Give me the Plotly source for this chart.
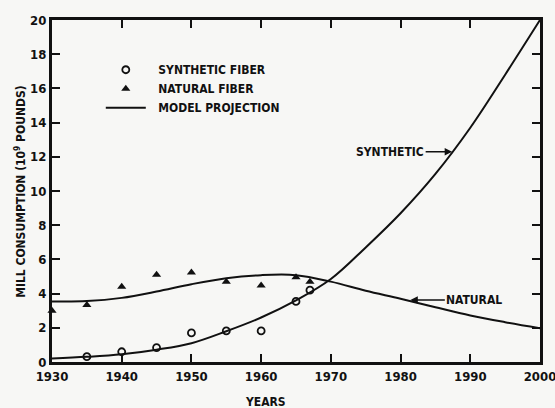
import plotly.graph_objects as go

# Observed data points
syn_years = [1935, 1940, 1945, 1950, 1955, 1960, 1965, 1967]
syn_values = [0.31, 0.6, 0.84, 1.7, 1.82, 1.82, 3.54, 4.2]
nat_years = [1930, 1935, 1940, 1945, 1950, 1955, 1960, 1965, 1967]
nat_values = [3.0, 3.34, 4.4, 5.1, 5.23, 4.7, 4.48, 4.95, 4.7]

# Model projection curves
model_years = [1930, 1935, 1940, 1945, 1950, 1955, 1960, 1965, 1970, 1975, 1980, 1985, 1990, 1995, 2000]
syn_model = [0.2, 0.3, 0.45, 0.72, 1.1, 1.8, 2.6, 3.6, 4.85, 6.7, 8.7, 11.0, 13.7, 16.8, 20.0]
nat_model = [3.54, 3.56, 3.75, 4.12, 4.55, 4.9, 5.08, 5.08, 4.7, 4.17, 3.7, 3.2, 2.72, 2.33, 1.98]

x_ticks = [1930, 1940, 1950, 1960, 1970, 1980, 1990, 2000]
y_ticks = [0, 2, 4, 6, 8, 10, 12, 14, 16, 18, 20]

FONT = "DejaVu Sans Condensed"
INK = "#111111"
NB = "\u00a0"

fig = go.Figure()
fig.add_trace(go.Scatter(x=syn_years, y=syn_values, mode="markers", name=NB * 2 + "SYNTHETIC FIBER",
                         marker=dict(symbol="circle-open", size=7, color=INK, line=dict(width=1.8)),
                         cliponaxis=False))
fig.add_trace(go.Scatter(x=nat_years, y=nat_values, mode="markers", name=NB * 2 + "NATURAL FIBER",
                         marker=dict(symbol="triangle-up", size=8, color=INK),
                         cliponaxis=False))
fig.add_trace(go.Scatter(x=model_years, y=syn_model, mode="lines", name=NB * 2 + "MODEL PROJECTION",
                         line=dict(color=INK, width=2, shape="spline", smoothing=1.0)))
fig.add_trace(go.Scatter(x=model_years, y=nat_model, mode="lines", showlegend=False,
                         line=dict(color=INK, width=2, shape="spline", smoothing=1.0)))

axis_common = dict(showline=True, linewidth=3, linecolor=INK, mirror="ticks",
                   ticks="inside", ticklen=8, tickwidth=2, tickcolor=INK,
                   showgrid=False, zeroline=False, automargin=False,
                   ticklabeloverflow="allow",
                   tickfont=dict(family=FONT, size=13, color=INK, weight="bold"))

fig.update_xaxes(range=[1930, 2000], tickvals=x_ticks, ticktext=[str(v) for v in x_ticks], **axis_common)
fig.update_yaxes(range=[0, 20], tickvals=y_ticks, ticktext=[str(v) for v in y_ticks], **axis_common)

fig.add_annotation(xref="paper", yref="paper", x=-0.066, y=0.5, xanchor="center", yanchor="middle",
                   text="MILL CONSUMPTION (10<sup>9</sup> POUNDS)", textangle=-90, showarrow=False,
                   font=dict(family=FONT, size=12, color=INK, weight="bold"))
fig.add_annotation(xref="paper", yref="paper", x=0.437, y=-0.118, xanchor="center", yanchor="middle",
                   text="YEARS", showarrow=False,
                   font=dict(family=FONT, size=12, color=INK, weight="bold"))

fig.add_annotation(x=1987.4, y=12.3, text="SYNTHETIC", showarrow=True, ax=-62, ay=0,
                   arrowhead=2, arrowsize=1, arrowwidth=1.5, arrowcolor=INK, standoff=0,
                   font=dict(family=FONT, size=12, color=INK, weight="bold"))
fig.add_annotation(x=1981.4, y=3.63, text="NATURAL", showarrow=True, ax=64, ay=0,
                   arrowhead=2, arrowsize=1, arrowwidth=1.5, arrowcolor=INK, standoff=0,
                   font=dict(family=FONT, size=12, color=INK, weight="bold"))

fig.update_layout(
    width=555, height=408,
    margin=dict(l=52, r=15, t=20, b=46),
    paper_bgcolor="#f7f7f5", plot_bgcolor="#f7f7f5",
    showlegend=True,
    legend=dict(x=0.1, y=0.897, xanchor="left", yanchor="top", bgcolor="rgba(0,0,0,0)",
                itemwidth=40, tracegroupgap=0,
                font=dict(family=FONT, size=12, color=INK, weight="bold")),
)

fig.write_html("out.html", config={"displayModeBar": False},
               post_script="document.body.style.margin='0';")
